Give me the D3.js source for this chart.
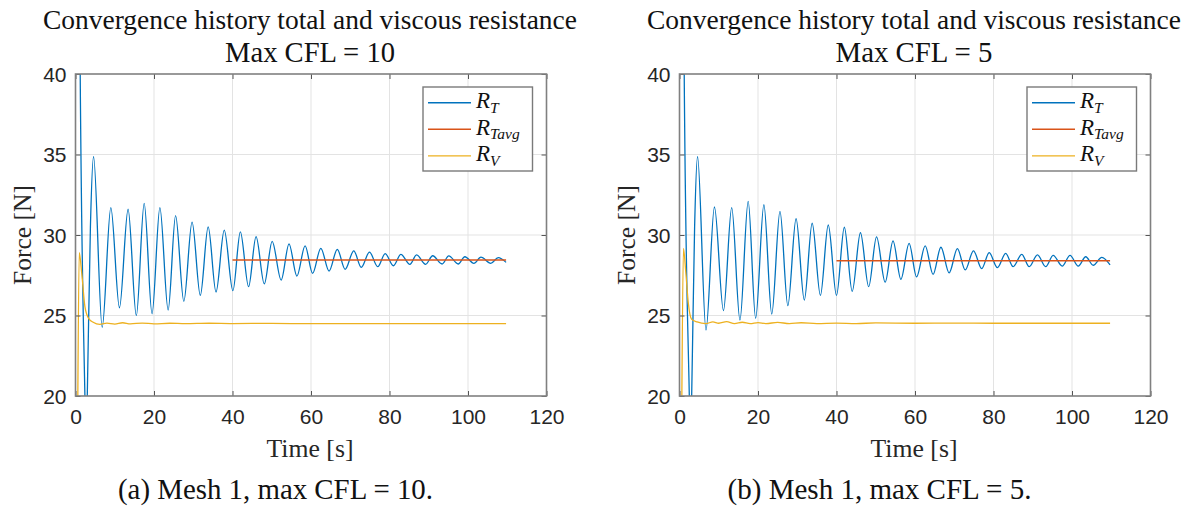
<!DOCTYPE html>
<html><head><meta charset="utf-8">
<script src="https://cdn.jsdelivr.net/npm/d3@7/dist/d3.min.js"></script>
<style>html,body{margin:0;padding:0;background:#fff;} svg{display:block}</style>
</head><body>
<svg id="chart" width="1193" height="512"></svg>
<script>
// ---------- data ----------
const xTicks = [0, 20, 40, 60, 80, 100, 120];
const yTicks = [20, 25, 30, 35, 40];
const titleLine1 = "Convergence history total and viscous resistance";
const titleLine2 = ["Max CFL = 10", "Max CFL = 5"];
const captions = ["(a) Mesh 1, max CFL = 10.", "(b) Mesh 1, max CFL = 5."];
const xLabel = "Time [s]";
const yLabel = "Force [N]";
const legendSubs = ["T", "Tavg", "V"];

// Mesh 1, max CFL = 10 : total resistance R_T
const rtTime10 = [0, 1.2, 2.4, 2.7, 3.0, 3.8, 4.6, 6.8, 9.0, 11.2, 13.4, 15.5, 17.5, 19.5, 21.5, 23.6, 25.5, 27.6, 29.7, 31.8, 33.8, 35.8, 37.9, 40.1, 42.0, 44.1, 46.0, 48.1, 50.1, 52.4, 54.4, 56.4, 58.5, 60.4, 62.5, 64.6, 66.7, 68.7, 70.9, 72.8, 74.9, 77.0, 78.9, 81.0, 82.9, 85.2, 86.9, 89.2, 91.0, 93.4, 95.1, 97.5, 99.2, 101.5, 103.3, 105.8, 107.7, 109.7];
const rtForce10 = [95, 40, 20, 16.5, 20, 30.5, 34.86, 24.27, 31.7, 25.48, 31.6, 24.99, 31.97, 25.11, 31.7, 25.34, 31.2, 25.88, 30.8, 26.25, 30.5, 26.46, 30.3, 26.54, 30.2, 26.79, 29.9, 26.96, 29.6, 27.2, 29.45, 27.45, 29.32, 27.62, 29.17, 27.76, 29.11, 27.87, 29.02, 27.99, 28.94, 28.03, 28.84, 28.09, 28.80, 28.18, 28.76, 28.18, 28.71, 28.20, 28.70, 28.20, 28.65, 28.24, 28.62, 28.24, 28.59, 28.3];
// averaged total resistance
const ravgTime10 = [40, 109.7];
const ravgForce10 = [28.45, 28.45];
// viscous resistance R_V
const rvTime10 = [0, 0.45, 0.95, 1.6, 2.4, 3.3, 4.5, 6.2, 8, 10, 12, 14, 17, 20, 24, 28, 34, 40, 50, 60, 70, 85, 109.7];
const rvForce10 = [0, 15, 28.9, 27.6, 25.55, 24.84, 24.58, 24.45, 24.53, 24.47, 24.55, 24.48, 24.53, 24.48, 24.52, 24.49, 24.52, 24.5, 24.51, 24.49, 24.5, 24.5, 24.5];

// Mesh 1, max CFL = 5
const rtTime5 = [0, 1.2, 2.5, 2.8, 3.1, 3.85, 4.6, 6.75, 8.9, 11.2, 13.3, 15.4, 17.5, 19.4, 21.5, 23.5, 25.6, 27.6, 29.7, 31.8, 33.8, 35.9, 37.9, 40.0, 42.0, 44.0, 46.1, 48.2, 50.2, 52.4, 54.4, 56.4, 58.5, 60.4, 62.6, 64.6, 66.6, 68.7, 70.8, 72.8, 74.9, 77.0, 78.9, 81.0, 83.1, 85.0, 87.2, 89.1, 91.2, 93.3, 95.2, 97.5, 99.5, 101.6, 103.5, 105.4, 107.6, 109.7];
const rtForce5 = [95, 40, 20, 16.5, 20, 30.5, 34.86, 24.1, 31.74, 25.3, 31.70, 24.72, 32.09, 24.83, 31.88, 25.09, 31.47, 25.61, 31.01, 25.96, 30.73, 26.25, 30.62, 26.25, 30.48, 26.5, 30.14, 26.79, 29.88, 27.07, 29.63, 27.25, 29.48, 27.40, 29.32, 27.55, 29.24, 27.65, 29.15, 27.83, 29.02, 27.91, 28.90, 27.97, 28.86, 28.03, 28.80, 28.03, 28.76, 28.03, 28.74, 28.07, 28.74, 28.07, 28.65, 28.12, 28.61, 28.14];
const ravgTime5 = [40, 109.7];
const ravgForce5 = [28.4, 28.4];
const rvTime5 = [0, 0.45, 1.0, 1.6, 2.25, 3.1, 4.5, 6.75, 8.5, 10, 12, 14, 16, 18, 20, 22, 25, 28, 31, 35, 40, 45, 50, 60, 70, 80, 109.7];
const rvForce5 = [0, 15, 29.17, 27.7, 25.76, 24.76, 24.6, 24.5, 24.6, 24.52, 24.62, 24.5, 24.58, 24.49, 24.56, 24.5, 24.57, 24.5, 24.55, 24.5, 24.53, 24.5, 24.54, 24.52, 24.53, 24.52, 24.52];

// ---------- drawing ----------
const colors = {rt: "#0072BD", ravg: "#D95319", rv: "#EDB120"};
const SERIF = "'Liberation Serif', 'Times New Roman', serif";
const SANS = "'Liberation Sans', Arial, Helvetica, sans-serif";
const svg = d3.select("#chart");

const zip = (a, b) => a.map((t, i) => [t, b[i]]);
const panels = [
  {left: 75.5, title2: titleLine2[0], caption: captions[0],
   series: [zip(rtTime10, rtForce10), zip(ravgTime10, ravgForce10), zip(rvTime10, rvForce10)]},
  {left: 679.5, title2: titleLine2[1], caption: captions[1],
   series: [zip(rtTime5, rtForce5), zip(ravgTime5, ravgForce5), zip(rvTime5, rvForce5)]}
];
const plotW = 471, plotTop = 74, plotBottom = 396;

function fit(sel, target) {
  const w = sel.node().getComputedTextLength();
  const fs = parseFloat(sel.attr("font-size"));
  if (w > 0) sel.attr("font-size", (fs * target / w).toFixed(2));
}

panels.forEach((p, pi) => {
  const x = d3.scaleLinear().domain([0, 120]).range([p.left, p.left + plotW]);
  const y = d3.scaleLinear().domain([20, 40]).range([plotBottom, plotTop]);
  const g = svg.append("g");
  const cx = p.left + plotW / 2;

  // grid
  g.append("g").selectAll("line").data(xTicks.slice(1, -1)).join("line")
    .attr("x1", d => x(d)).attr("x2", d => x(d)).attr("y1", plotTop).attr("y2", plotBottom)
    .attr("stroke", "#e3e3e3").attr("stroke-width", 1);
  g.append("g").selectAll("line").data(yTicks.slice(1, -1)).join("line")
    .attr("x1", p.left).attr("x2", p.left + plotW).attr("y1", d => y(d)).attr("y2", d => y(d))
    .attr("stroke", "#e3e3e3").attr("stroke-width", 1);

  // clip
  const cid = "clip" + pi;
  svg.append("clipPath").attr("id", cid).append("rect")
    .attr("x", p.left).attr("y", plotTop).attr("width", plotW).attr("height", plotBottom - plotTop);

  const line = d3.line().x(d => x(d[0])).y(d => y(d[1])).curve(d3.curveMonotoneX);
  const lg = g.append("g").attr("clip-path", `url(#${cid})`);
  const keys = ["rt", "ravg", "rv"];
  p.series.forEach((s, i) => {
    lg.append("path").attr("d", line(s)).attr("fill", "none")
      .attr("stroke", colors[keys[i]]).attr("stroke-width", i === 1 ? 1.5 : 1.3)
      .attr("stroke-linejoin", "round");
  });

  // axes (ticks inside)
  const axB = d3.axisBottom(x).tickValues(xTicks).tickSize(-5).tickPadding(13).tickFormat(d3.format("d"));
  const axT = d3.axisTop(x).tickValues(xTicks).tickSize(-5).tickFormat("");
  const axL = d3.axisLeft(y).tickValues(yTicks).tickSize(-5).tickPadding(9).tickFormat(d3.format("d"));
  const axR = d3.axisRight(y).tickValues(yTicks).tickSize(-5).tickFormat("");
  const styleAxis = a => {
    a.select(".domain").remove();
    a.selectAll(".tick line").attr("stroke", "#555").attr("stroke-width", 1);
    a.selectAll("text").attr("font-family", SANS).attr("font-size", 21).attr("fill", "#262626");
  };
  g.append("g").attr("transform", `translate(0,${plotBottom})`).call(axB).call(styleAxis)
    .selectAll("text").attr("dy", "0.71em");
  g.append("g").attr("transform", `translate(0,${plotTop})`).call(axT).call(styleAxis);
  g.append("g").attr("transform", `translate(${p.left},0)`).call(axL).call(styleAxis)
    .selectAll("text").attr("dy", "0.35em");
  g.append("g").attr("transform", `translate(${p.left + plotW},0)`).call(axR).call(styleAxis);

  // box
  g.append("rect").attr("x", p.left).attr("y", plotTop).attr("width", plotW).attr("height", plotBottom - plotTop)
    .attr("fill", "none").attr("stroke", "#808080").attr("stroke-width", 1.6);

  // legend
  const lx = p.left + 347.5, ly = 87;
  const leg = g.append("g");
  leg.append("rect").attr("x", lx).attr("y", ly).attr("width", 109.5).attr("height", 84)
    .attr("fill", "#fff").attr("stroke", "#7a7a7a").attr("stroke-width", 1.4);
  legendSubs.forEach((sub, i) => {
    const yy = ly + 15.7 + i * 26.6;
    leg.append("line").attr("x1", lx + 5).attr("x2", lx + 48).attr("y1", yy).attr("y2", yy)
      .attr("stroke", colors[keys[i]]).attr("stroke-width", 1.4);
    const t = leg.append("text").attr("x", lx + 53).attr("y", yy + 5.5)
      .attr("font-family", SERIF).attr("font-style", "italic").attr("font-size", 23).attr("fill", "#111");
    t.append("tspan").text("R");
    t.append("tspan").attr("dy", 4.5).attr("font-size", 15.5).text(sub);
  });

  // titles
  const t1 = svg.append("text").attr("x", cx - 1).attr("y", 29).attr("text-anchor", "middle")
    .attr("font-family", SERIF).attr("font-size", 26).attr("fill", "#111").text(titleLine1);
  fit(t1, 534);
  const t2 = svg.append("text").attr("x", cx - 1).attr("y", 62).attr("text-anchor", "middle")
    .attr("font-family", SERIF).attr("font-size", 26).attr("fill", "#111").text(p.title2);
  fit(t2, pi === 0 ? 170 : 157);

  // axis labels
  const xl = svg.append("text").attr("x", cx - 1).attr("y", 457).attr("text-anchor", "middle")
    .attr("font-family", SERIF).attr("font-size", 26).attr("fill", "#262626").text(xLabel);
  fit(xl, 87);
  const yl = svg.append("text").attr("transform", `translate(${p.left - 45},235) rotate(-90)`)
    .attr("text-anchor", "middle")
    .attr("font-family", SERIF).attr("font-size", 26).attr("fill", "#262626").text(yLabel);
  fit(yl, 100);

  // caption
  const cap = svg.append("text").attr("x", p.left + 200).attr("y", 499).attr("text-anchor", "middle")
    .attr("font-family", SERIF).attr("font-size", 26).attr("fill", "#111").text(p.caption);
  fit(cap, pi === 0 ? 315 : 304);
});
</script>
</body></html>
